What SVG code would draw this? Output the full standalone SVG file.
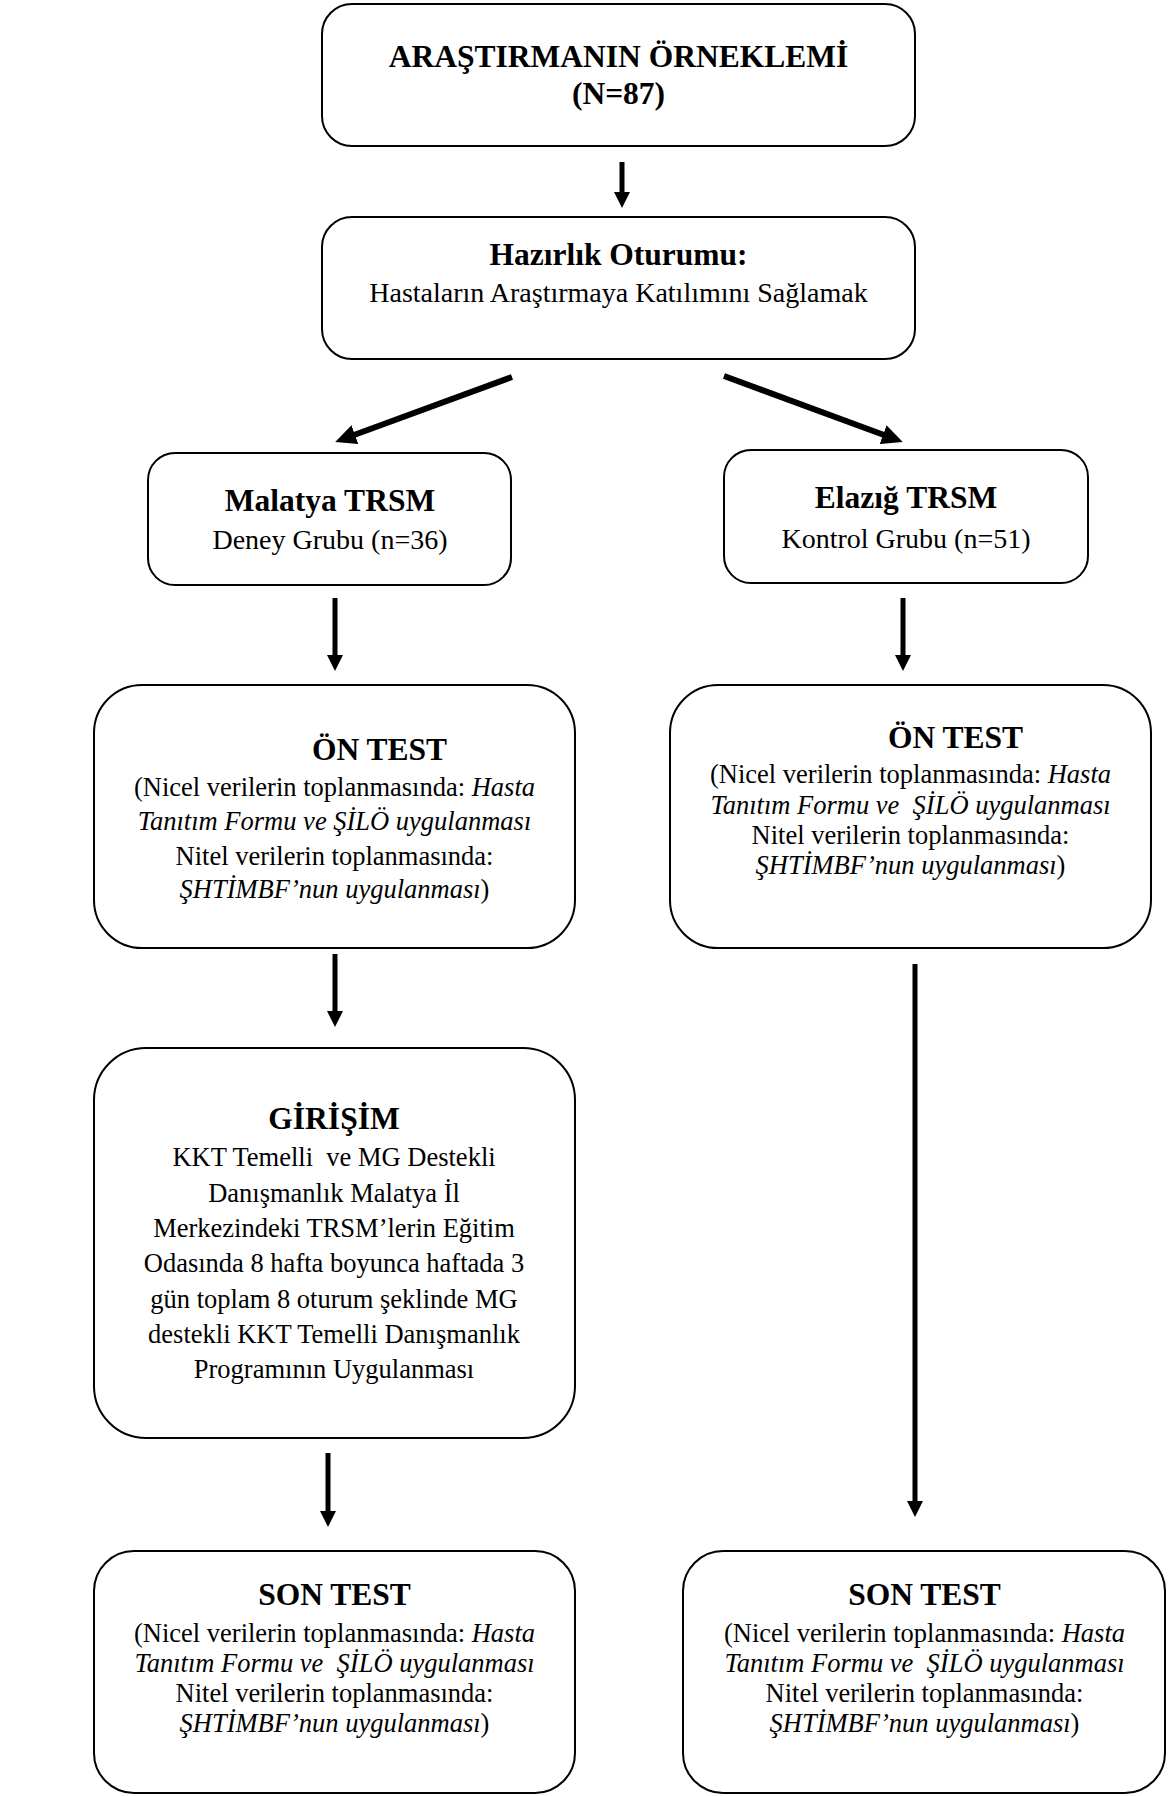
<svg xmlns="http://www.w3.org/2000/svg" width="1168" height="1796" viewBox="0 0 1168 1796">
<style>
.box{fill:#fff;stroke:#000;stroke-width:2}
text{font-family:"Liberation Serif","Times New Roman",serif;fill:#000;text-anchor:middle}
.t{font-weight:bold;font-size:31.5px}
.b{font-size:26.5px}
.s{font-size:28px}
.i{font-style:italic}
.c{stroke:#000;stroke-width:5;fill:none}
.d{stroke:#000;stroke-width:6;fill:none}
</style>
<defs>
<marker id="ah" viewBox="0 -8 16 16" refX="1" refY="0" markerWidth="16" markerHeight="16" markerUnits="userSpaceOnUse" orient="auto">
<path d="M0,-8 L16,0 L0,8 Z" fill="#000"/>
</marker>
<marker id="ahl" viewBox="0 -10 21 20" refX="1" refY="0" markerWidth="21" markerHeight="20" markerUnits="userSpaceOnUse" orient="auto">
<path d="M0,-10 L21,0 L0,10 Z" fill="#000"/>
</marker>
</defs>
<rect width="1168" height="1796" fill="#fff"/>

<g id="connectors">
<line class="c" x1="622" y1="162" x2="622" y2="193" marker-end="url(#ah)"/>
<line class="d" x1="512" y1="377" x2="354" y2="435" marker-end="url(#ahl)"/>
<line class="d" x1="724" y1="376" x2="884" y2="435" marker-end="url(#ahl)"/>
<line class="c" x1="335" y1="598" x2="335" y2="656" marker-end="url(#ah)"/>
<line class="c" x1="903" y1="598" x2="903" y2="656" marker-end="url(#ah)"/>
<line class="c" x1="335" y1="954" x2="335" y2="1012" marker-end="url(#ah)"/>
<line class="c" x1="915" y1="964" x2="915" y2="1502" marker-end="url(#ah)"/>
<line class="c" x1="328" y1="1453" x2="328" y2="1512" marker-end="url(#ah)"/>
</g>

<g id="orneklem">
<rect class="box" x="322" y="4" width="593" height="142" rx="30"/>
<text class="t" x="618.5" y="67">ARAŞTIRMANIN ÖRNEKLEMİ</text>
<text class="t" x="618.5" y="104">(N=87)</text>
</g>

<g id="hazirlik">
<rect class="box" x="322" y="217" width="593" height="142" rx="30"/>
<text class="t" x="618.5" y="265">Hazırlık Oturumu:</text>
<text class="s" x="618.5" y="302">Hastaların Araştırmaya Katılımını Sağlamak</text>
</g>

<g id="malatya">
<rect class="box" x="148" y="453" width="363" height="132" rx="27"/>
<text class="t" x="330" y="511">Malatya TRSM</text>
<text class="s" x="330" y="549">Deney Grubu (n=36)</text>
</g>

<g id="elazig">
<rect class="box" x="724" y="450" width="364" height="133" rx="27"/>
<text class="t" x="906" y="508">Elazığ TRSM</text>
<text class="s" x="906" y="548">Kontrol Grubu (n=51)</text>
</g>

<g id="ontest-deney">
<rect class="box" x="94" y="685" width="481" height="263" rx="48"/>
<text class="t" x="379.5" y="760">ÖN TEST</text>
<text class="b" x="334.5" y="796">(Nicel verilerin toplanmasında: <tspan class="i">Hasta</tspan></text>
<text class="b i" x="334.5" y="830">Tanıtım Formu ve ŞİLÖ uygulanması</text>
<text class="b" x="334.5" y="865">Nitel verilerin toplanmasında:</text>
<text class="b" x="334.5" y="898"><tspan class="i">ŞHTİMBF’nun uygulanması</tspan>)</text>
</g>

<g id="ontest-kontrol">
<rect class="box" x="670" y="685" width="481" height="263" rx="48"/>
<text class="t" x="955.5" y="748">ÖN TEST</text>
<text class="b" x="910.5" y="783">(Nicel verilerin toplanmasında: <tspan class="i">Hasta</tspan></text>
<text class="b i" x="910.5" y="814">Tanıtım Formu ve&#160; ŞİLÖ uygulanması</text>
<text class="b" x="910.5" y="844">Nitel verilerin toplanmasında:</text>
<text class="b" x="910.5" y="874"><tspan class="i">ŞHTİMBF’nun uygulanması</tspan>)</text>
</g>

<g id="girisim">
<rect class="box" x="94" y="1048" width="481" height="390" rx="52"/>
<text class="t" x="334" y="1129">GİRİŞİM</text>
<text class="b" x="334" y="1166">KKT Temelli&#160; ve MG Destekli</text>
<text class="b" x="334" y="1202">Danışmanlık Malatya İl</text>
<text class="b" x="334" y="1237">Merkezindeki TRSM’lerin Eğitim</text>
<text class="b" x="334" y="1272">Odasında 8 hafta boyunca haftada 3</text>
<text class="b" x="334" y="1308">gün toplam 8 oturum şeklinde MG</text>
<text class="b" x="334" y="1343">destekli KKT Temelli Danışmanlık</text>
<text class="b" x="334" y="1378">Programının Uygulanması</text>
</g>

<g id="sontest-deney">
<rect class="box" x="94" y="1551" width="481" height="242" rx="40"/>
<text class="t" x="334.5" y="1605">SON TEST</text>
<text class="b" x="334.5" y="1642">(Nicel verilerin toplanmasında: <tspan class="i">Hasta</tspan></text>
<text class="b i" x="334.5" y="1672">Tanıtım Formu ve&#160; ŞİLÖ uygulanması</text>
<text class="b" x="334.5" y="1702">Nitel verilerin toplanmasında:</text>
<text class="b" x="334.5" y="1732"><tspan class="i">ŞHTİMBF’nun uygulanması</tspan>)</text>
</g>

<g id="sontest-kontrol">
<rect class="box" x="683" y="1551" width="482" height="242" rx="40"/>
<text class="t" x="924.5" y="1605">SON TEST</text>
<text class="b" x="924.5" y="1642">(Nicel verilerin toplanmasında: <tspan class="i">Hasta</tspan></text>
<text class="b i" x="924.5" y="1672">Tanıtım Formu ve&#160; ŞİLÖ uygulanması</text>
<text class="b" x="924.5" y="1702">Nitel verilerin toplanmasında:</text>
<text class="b" x="924.5" y="1732"><tspan class="i">ŞHTİMBF’nun uygulanması</tspan>)</text>
</g>
</svg>
